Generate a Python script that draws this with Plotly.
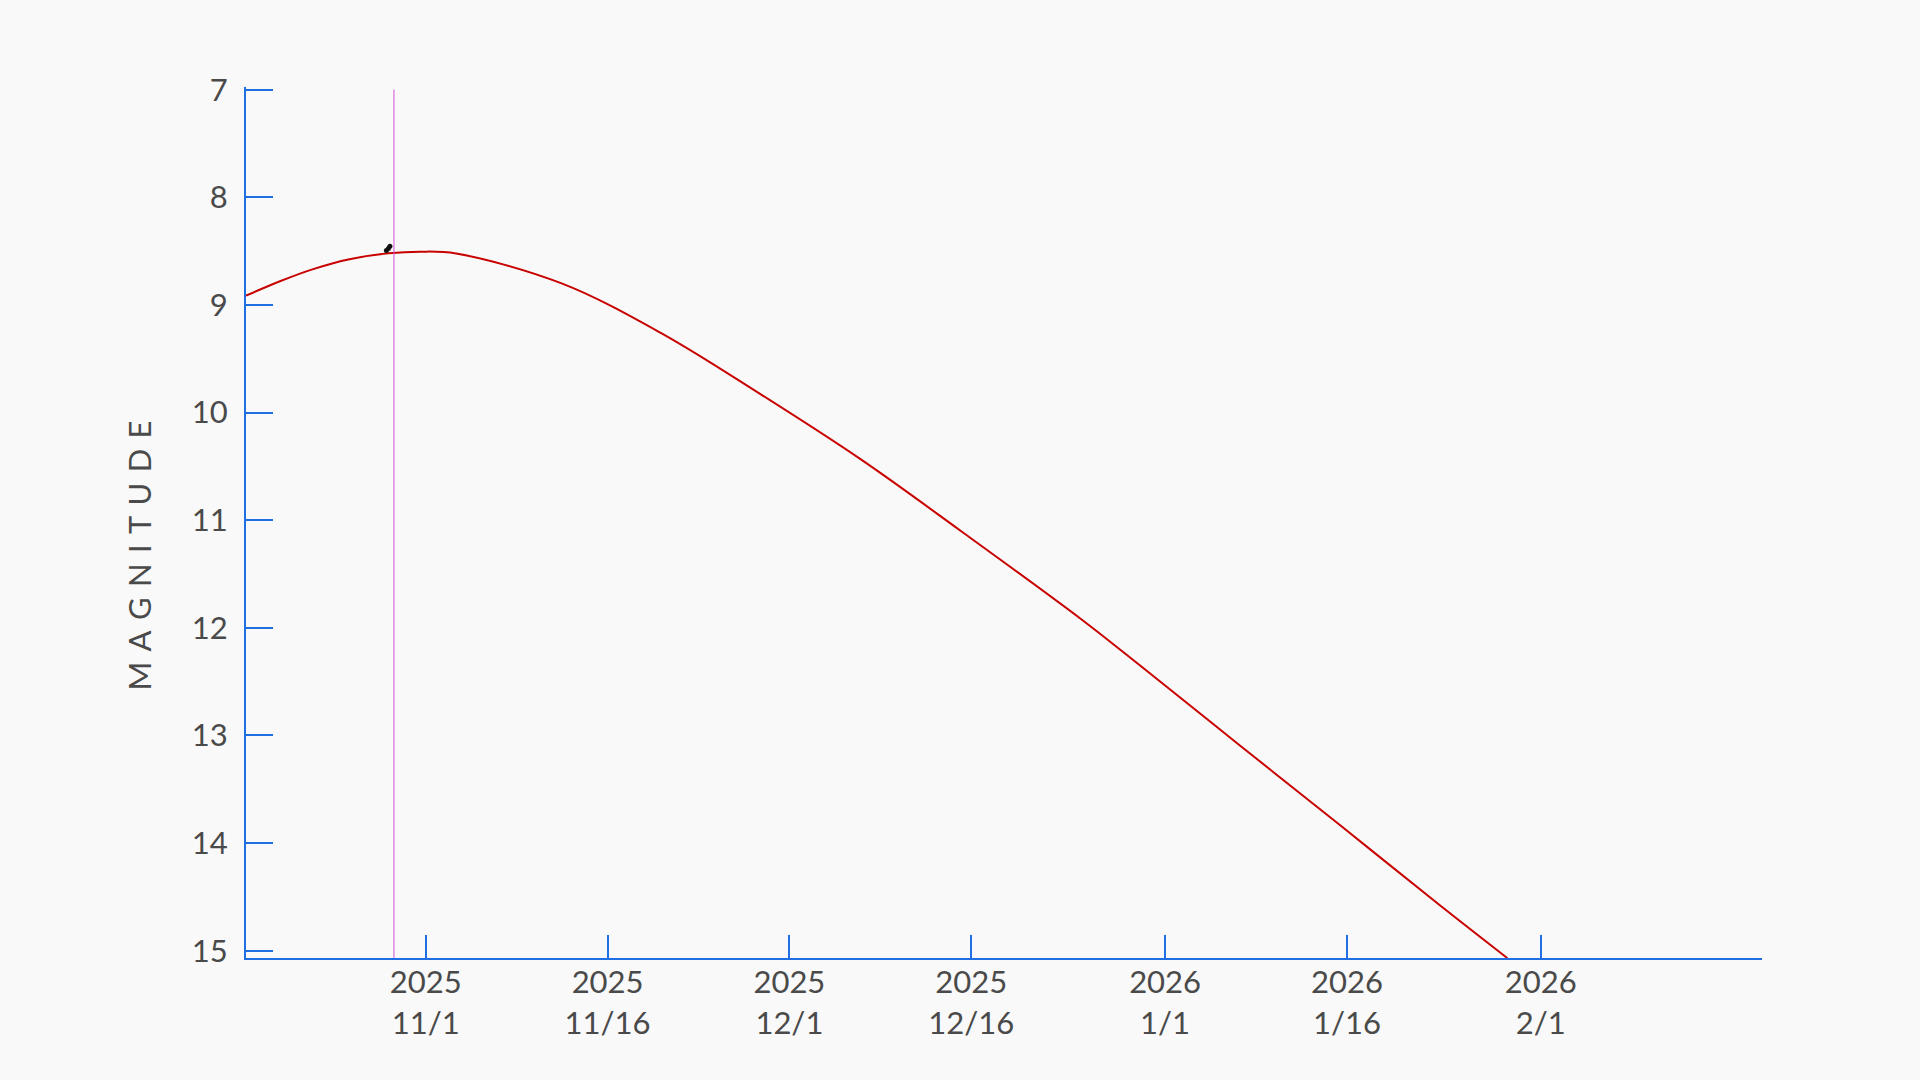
import plotly.graph_objects as go

# Predicted magnitude curve
curve_dates = ['2025-10-17 04:00', '2025-10-19 22:00', '2025-10-22 17:00', '2025-10-25 17:00',
               '2025-10-28 22:00', '2025-10-31 14:00', '2025-11-03 12:00',
               '2025-11-12 05:00', '2025-11-20 11:00', '2025-11-28 17:00', '2025-12-06 23:00',
               '2025-12-15 05:00', '2025-12-25 02:00', '2025-12-30 01:00',
               '2026-01-07 06:00', '2026-01-15 12:00', '2026-01-23 18:00', '2026-01-29 06:00']
curve_mags = [8.914, 8.782, 8.667, 8.575,
              8.52, 8.505, 8.522,
              8.80, 9.264, 9.836, 10.44,
              11.105, 11.92, 12.36,
              13.10, 13.84, 14.585, 15.07]

# Observations (black points)
obs_dates = ['2025-10-28 18:00', '2025-10-28 22:00', '2025-10-29 01:00']
obs_mags = [8.495, 8.475, 8.455]

# Current date marker
today = '2025-10-29 09:00'

tick_vals = ['2025-11-01', '2025-11-16', '2025-12-01', '2025-12-16', '2026-01-01', '2026-01-16', '2026-02-01']
tick_text = ['2025<br>11/1', '2025<br>11/16', '2025<br>12/1', '2025<br>12/16', '2026<br>1/1', '2026<br>1/16', '2026<br>2/1']
y_ticks = [7, 8, 9, 10, 11, 12, 13, 14, 15]

AXIS = '#1f6fe2'
TEXT = '#4a4a4a'
BG = '#f9f9f9'
FS = 31

fig = go.Figure()
fig.add_trace(go.Scatter(x=curve_dates, y=curve_mags, mode='lines',
                         line=dict(color='#c80000', width=2, shape='spline', smoothing=1.0),
                         hoverinfo='skip', showlegend=False))
fig.add_trace(go.Scatter(x=[today, today], y=[7, 15.2], mode='lines',
                         line=dict(color='#d050d8', width=1), showlegend=False, hoverinfo='skip'))
fig.add_trace(go.Scatter(x=obs_dates, y=obs_mags, mode='markers',
                         marker=dict(color='#111111', size=5), showlegend=False))

sp = '\u2004'
title = sp.join(list('MAGNITUDE'))

fig.update_layout(
    width=1920, height=1080,
    paper_bgcolor=BG, plot_bgcolor=BG,
    margin=dict(l=246, r=158, t=87, b=122),
    font=dict(family='Lato', color=TEXT, size=FS),
    xaxis=dict(type='date', range=['2025-10-17 04:00', '2026-02-19 06:00'],
               tickvals=tick_vals, ticktext=tick_text,
               ticks='inside', ticklen=23, tickwidth=2, tickcolor=AXIS,
               showline=True, linecolor=AXIS, linewidth=2,
               showgrid=False, zeroline=False,
               tickfont=dict(family='Lato', size=FS, color=TEXT),
               ticklabelstandoff=-4),
    yaxis=dict(range=[15.068, 6.975], tickvals=y_ticks,
               ticks='inside', ticklen=27, tickwidth=2, tickcolor=AXIS,
               showline=True, linecolor=AXIS, linewidth=2,
               showgrid=False, zeroline=False,
               tickfont=dict(family='Lato', size=FS, color=TEXT),
               ticklabelstandoff=10),
    annotations=[dict(text=title,
                      xref='paper', yref='paper', x=0, y=0.5, xshift=-129, yshift=-33,
                      textangle=-90, showarrow=False,
                      font=dict(family='Lato', size=FS, color=TEXT))],
)

fig.write_html('out.html', config={'displayModeBar': False},
               post_script="document.body.style.margin='0';document.body.style.background='#f9f9f9';document.body.style.overflow='hidden';")
